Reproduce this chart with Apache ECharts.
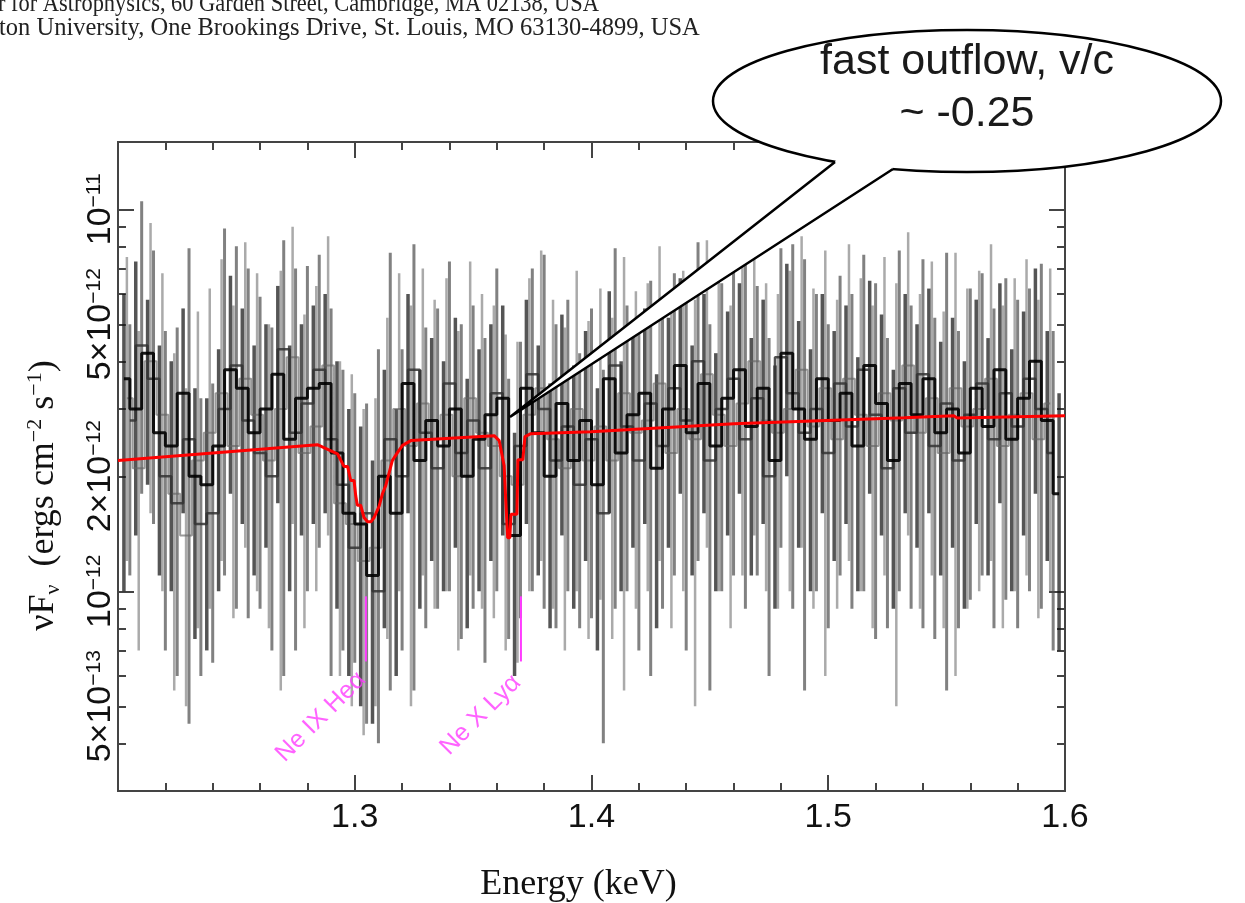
<!DOCTYPE html>
<html><head><meta charset="utf-8">
<script src="https://cdn.jsdelivr.net/npm/echarts@6/dist/echarts.min.js"></script>
<style>html,body{margin:0;padding:0;background:#fff}#c{width:1245px;height:903px}</style>
</head><body><div id="c"></div>
<script>
// ---------- DATA (flux in units of 1e-12 ergs cm^-2 s^-1) ----------
const UNIT = 1e-12;
// dataset 1 (dark)
const d1E = [1.2025,1.2075,1.2125,1.2175,1.2225,1.2275,1.2325,1.2375,1.2425,1.2475,
1.2525,1.2575,1.2625,1.2675,1.2725,1.2775,1.2825,1.2875,1.2925,1.2975,
1.3025,1.3075,1.3125,1.3175,1.3225,1.3275,1.3325,1.3375,1.3425,1.3475,
1.3525,1.3575,1.3625,1.3675,1.3725,1.3775,1.3825,1.3875,1.3925,1.3975,
1.4025,1.4075,1.4125,1.4175,1.4225,1.4275,1.4325,1.4375,1.4425,1.4475,
1.4525,1.4575,1.4625,1.4675,1.4725,1.4775,1.4825,1.4875,1.4925,1.4975,
1.5025,1.5075,1.5125,1.5175,1.5225,1.5275,1.5325,1.5375,1.5425,1.5475,
1.5525,1.5575,1.5625,1.5675,1.5725,1.5775,1.5825,1.5875,1.5925,1.5975];
const d1V = [3.6,3.0,4.2,2.6,2.4,3.3,2.0,1.9,2.4,3.8, 3.4,2.6,3.0,3.7,2.5,3.2,3.4,3.5,2.3,1.6,
1.5,1.1,2.0,1.6,3.5,2.2,2.8,2.4,3.0,2.0, 2.5,2.9,3.2,1.4,3.4,2.6,2.0,3.1,2.2,2.8,
1.9,3.6,2.3,2.9,3.3,2.1,3.0,3.9,2.6,3.5, 2.4,3.2,3.8,2.7,3.4,2.2,4.2,3.0,2.5,3.6,
2.8,3.3,2.4,3.9,3.1,2.2,3.5,2.9,3.6,2.6, 3.0,2.3,3.4,2.7,3.8,2.5,3.2,4.0,2.8,1.8];
const d1Lo = [1.0,1.4,1.9,1.1,1.0,1.6,0.75,0.7,1.0,1.8, 1.5,1.1,1.3,1.7,1.0,1.4,1.5,1.6,0.9,0.6,
0.5,0.45,0.8,0.6,1.6,0.9,1.2,1.0,1.3,0.8, 1.0,1.2,1.4,0.6,1.5,1.1,0.8,1.4,0.9,1.2,
0.7,1.6,1.0,1.3,1.5,0.8,1.3,1.8,1.1,1.6, 1.0,1.4,1.8,1.1,1.5,0.9,2.0,1.3,1.0,1.6,
1.2,1.5,1.0,1.8,1.4,0.9,1.6,1.3,1.6,1.1, 1.3,0.9,1.5,1.1,1.7,1.0,1.4,1.8,1.2,0.7];
const d1Hi = [6.0,7.3,5.8,4.4,4.0,5.5,3.4,3.2,4.3,6.7, 5.5,4.4,5.0,6.3,4.4,5.0,5.6,6.0,4.0,3.0,
2.7,2.2,3.8,3.0,6.0,3.8,4.6,4.0,5.2,3.6, 4.3,5.0,5.6,2.6,5.8,4.4,3.5,5.3,3.9,4.8,
3.4,6.1,4.0,5.0,5.5,3.7,5.2,6.6,4.4,6.0, 4.2,5.4,6.4,4.6,5.8,3.9,7.2,5.1,4.3,6.0,
4.8,5.6,4.1,6.5,5.3,3.8,6.0,5.0,6.2,4.5, 5.2,4.0,5.8,4.6,6.4,4.3,5.4,7.0,4.8,3.3];
// dataset 2 (grey)
const d2E = [1.205,1.210,1.215,1.220,1.225,1.230,1.235,1.240,1.245,1.250,
1.255,1.260,1.265,1.270,1.275,1.280,1.285,1.290,1.295,1.300,
1.305,1.310,1.315,1.320,1.325,1.330,1.335,1.340,1.345,1.350,
1.355,1.360,1.365,1.370,1.375,1.380,1.385,1.390,1.395,1.400,
1.405,1.410,1.415,1.420,1.425,1.430,1.435,1.440,1.445,1.450,
1.455,1.460,1.465,1.470,1.475,1.480,1.485,1.490,1.495,1.500,
1.505,1.510,1.515,1.520,1.525,1.530,1.535,1.540,1.545,1.550,
1.555,1.560,1.565,1.570,1.575,1.580,1.585,1.590,1.595];
const d2V = [2.8,4.4,3.6,2.0,1.7,2.5,1.5,1.6,3.0,3.9, 2.8,2.3,2.0,4.3,2.6,3.1,3.8,2.5,1.9,1.3,
1.6,1.0,2.5,2.0,3.8,2.6,2.1,3.5,2.3,2.8, 2.1,3.3,1.5,2.4,3.7,3.0,2.2,2.7,1.9,2.5,
1.6,3.9,2.7,2.2,3.1,2.4,3.4,2.8,4.0,2.2, 3.0,3.6,2.5,3.2,2.0,4.1,3.3,2.6,3.0,2.3,
3.5,2.7,3.8,2.9,2.1,3.4,2.6,3.7,2.4,3.1, 2.2,2.9,3.5,2.5,3.3,2.7,3.6,3.0,2.3];
const d2Lo = [1.1,1.8,1.5,0.7,0.6,0.45,0.6,0.65,1.1,0.9, 0.85,0.9,0.7,0.6,0.7,1.0,1.3,0.6,0.7,0.65,
0.45,0.4,0.55,0.7,0.55,0.8,0.9,1.0,0.75,0.9, 0.65,1.0,0.75,0.85,1.0,0.9,0.8,1.0,0.8,0.85,
0.4,0.9,1.0,0.7,0.6,0.9,1.1,0.7,1.2,0.55, 1.0,1.1,0.9,1.1,0.6,1.3,0.9,0.55,1.0,0.8,
1.1,0.9,1.0,0.75,0.8,1.0,0.9,0.8,0.75,0.55, 0.8,0.95,1.1,0.8,0.95,0.8,1.0,0.9,0.7];
const d2Hi = [5.0,10.5,7.8,4.8,4.9,7.9,3.2,3.5,8.9,8.0, 7.0,5.9,4.9,8.3,7.0,7.1,7.6,5.5,3.8,3.3,
3.1,4.3,7.7,4.3,8.1,4.9,5.5,7.3,5.0,5.6, 4.6,7.0,3.6,4.5,7.0,7.6,5.0,5.8,4.2,5.5,
3.8,7.9,5.6,4.8,6.5,5.2,6.8,6.5,8.2,5.0, 6.4,6.9,7.2,6.3,4.6,7.9,8.1,7.4,6.0,5.0,
6.7,6.0,7.6,6.4,4.6,7.8,5.6,7.4,5.2,7.7, 4.8,6.2,6.8,5.5,6.6,5.8,6.2,7.2,4.8];
// dataset 3 (light grey)
const d3E = [1.20375,1.20875,1.21375,1.21875,1.22375,1.22875,1.23375,1.23875,1.24375,1.24875,
1.25375,1.25875,1.26375,1.26875,1.27375,1.27875,1.28375,1.28875,1.29375,1.29875,
1.30375,1.30875,1.31375,1.31875,1.32375,1.32875,1.33375,1.33875,1.34375,1.34875,
1.35375,1.35875,1.36375,1.36875,1.37375,1.37875,1.38375,1.38875,1.39375,1.39875,
1.40375,1.40875,1.41375,1.41875,1.42375,1.42875,1.43375,1.43875,1.44375,1.44875,
1.45375,1.45875,1.46375,1.46875,1.47375,1.47875,1.48375,1.48875,1.49375,1.49875,
1.50375,1.50875,1.51375,1.51875,1.52375,1.52875,1.53375,1.53875,1.54375,1.54875,
1.55375,1.55875,1.56375,1.56875,1.57375,1.57875,1.58375,1.58875,1.59375];
const d3V = [3.2,2.1,4.0,2.9,1.8,1.4,2.2,2.6,3.3,2.4, 3.6,2.9,2.2,3.0,4.1,2.3,2.7,3.9,1.7,1.5,
1.2,1.3,2.2,3.0,2.4,3.1,2.5,2.9,2.0,3.2, 2.6,2.4,2.0,1.9,2.9,3.4,2.5,2.1,3.0,2.2,
2.7,2.2,3.3,2.6,2.8,3.5,2.3,3.0,2.5,3.7, 2.9,2.4,3.1,4.0,2.8,2.6,3.0,3.8,2.7,3.4,
2.5,3.6,2.9,2.4,3.3,2.8,3.9,2.6,3.2,2.3, 3.4,2.7,3.0,3.6,2.4,2.9,3.3,2.5,3.1];
const d3Lo = [1.2,0.7,1.6,1.0,0.55,0.5,0.8,0.9,1.2,0.85, 1.3,1.0,0.8,0.55,1.5,0.8,1.0,1.4,0.6,0.5,
0.42,0.5,0.75,1.0,0.5,1.1,0.9,1.0,0.7,1.1, 0.9,0.85,0.7,0.65,1.0,1.2,0.9,0.7,1.0,0.75,
0.95,0.75,0.55,0.9,1.0,1.2,0.8,1.0,0.5,1.3, 1.0,0.8,1.1,1.4,1.0,0.9,1.0,1.3,0.9,0.6,
0.9,1.2,1.0,0.8,1.1,0.5,1.4,0.9,1.1,0.8, 0.6,0.9,1.0,1.2,0.8,1.0,1.1,0.85,1.0];
const d3Hi = [7.5,4.8,9.2,6.8,4.2,3.4,5.4,6.2,7.4,5.6, 8.2,6.8,5.0,6.9,9.0,5.3,6.3,8.5,4.0,3.7,
3.0,3.2,5.2,6.8,5.6,7.0,5.8,6.6,4.8,7.3, 6.0,5.6,4.7,4.5,6.6,7.8,5.8,4.9,6.9,5.1,
6.2,5.2,7.5,6.1,6.4,8.0,5.4,6.9,5.8,8.3, 6.7,5.6,7.1,8.9,6.4,6.0,6.9,8.5,6.2,7.8,
5.8,8.1,6.6,5.6,7.5,6.4,8.7,6.0,7.3,5.4, 7.7,6.2,6.9,8.1,5.6,6.6,7.4,5.8,7.0];
// absorption model (red)
const modelE = [1.2,1.2842,1.2927,1.2955,1.2970,1.2983,1.2997,1.3004,1.3011,1.3025,1.3039,1.3054,1.3068,
1.3082,1.3103,1.3117,1.3131,1.3159,1.3181,1.3202,1.3237,1.3589,1.3610,1.3631,1.3638,1.3646,1.3655,
1.3660,1.3685,1.3689,1.3710,1.3719,1.3744,1.3998,1.4602,1.5321,1.5530,1.5545,1.6];
const modelF = [2.20,2.42,2.29,2.12,2.12,1.95,1.95,1.78,1.68,1.68,1.56,1.52,1.52,
1.56,1.67,1.80,1.89,2.20,2.31,2.41,2.48,2.555,2.48,2.13,1.72,1.38,1.38,
1.59,1.59,2.21,2.21,2.54,2.585,2.617,2.746,2.847,2.88,2.84,2.88];
// line identifications
const lineNames = ['Ne IX Heα','Ne X Lyα'];
const lineE = [1.3047,1.3702];
const lineTop = [9.7e-13,9.7e-13];
const lineBot = [6.55e-13,6.55e-13];
const labelE = [1.3030,1.3685];
const labelF = [6.0e-13,5.9e-13];
// axis ticks
const yLabelVals = [5e-13,1e-12,2e-12,5e-12,1e-11];
const yMajorTicks = [1e-12,1e-11];
const yMinorTicks = [4e-13,5e-13,6e-13,7e-13,8e-13,9e-13,2e-12,3e-12,4e-12,5e-12,6e-12,7e-12,8e-12,9e-12];

// ---------- CHART ----------
const AX = '#444';
const chart = echarts.init(document.getElementById('c'), null, {renderer:'canvas'});

function yFmt(v){
  const e = Math.floor(Math.log10(v) + 1e-9);
  const m = Math.round(v / Math.pow(10, e));
  return (m === 1 ? '' : '{n|' + m + '×}') + '{n|10}{s|−' + (-e) + '}';
}
const yRich = {
  n:{fontFamily:'Liberation Sans', fontSize:34, color:'#111', lineHeight:34, verticalAlign:'middle'},
  s:{fontFamily:'Liberation Sans', fontSize:21, color:'#111', lineHeight:20, verticalAlign:'top'}
};
function yAxisDef(pos, ticks, len, showLabel){
  return {type:'log', logBase:10, position:pos, min:3e-13, max:1.5e-11,
    axisLine:{show:true, lineStyle:{color:AX, width:2}},
    axisTick:{show:true, inside:true, length:len, customValues:ticks, lineStyle:{color:AX, width:2}},
    axisLabel: showLabel ? {show:true, customValues:yLabelVals, rotate:90, margin:0, formatter:yFmt, rich:yRich} : {show:false},
    splitLine:{show:false}, minorTick:{show:false}};
}
function xAxisDef(pos, showLabel){
  return {type:'value', position:pos, min:1.2, max:1.6, interval:0.1,
    axisLine:{show:true, onZero:false, lineStyle:{color:AX, width:2}},
    axisTick:{show:true, inside:true, length:16, lineStyle:{color:AX, width:2}},
    minorTick:{show:true, splitNumber:5, length:8, lineStyle:{color:AX, width:2}},
    axisLabel: showLabel ? {show:true, showMinLabel:false, showMaxLabel:true, margin:10, fontSize:34,
      fontFamily:'Liberation Sans', color:'#111', formatter:v=>v.toFixed(1)} : {show:false},
    splitLine:{show:false}, minorSplitLine:{show:false}};
}
const xAxes = [xAxisDef('bottom', true), xAxisDef('top', false)];
xAxes[0].name = 'Energy (keV)';
xAxes[0].nameLocation = 'middle';
xAxes[0].nameGap = 76;
xAxes[0].nameTextStyle = {fontFamily:'Liberation Serif', fontSize:36, color:'#111', padding:[0,26,0,0]};

const yAxes = [yAxisDef('left', yMajorTicks, 16, true), yAxisDef('left', yMinorTicks, 8, false),
               yAxisDef('right', yMajorTicks, 16, false), yAxisDef('right', yMinorTicks, 8, false)];
yAxes[0].name = '{t|νF}{sub|ν}{t|  (ergs cm}{sup|−2}{t| s}{sup|−1}{t|)}';
yAxes[0].nameLocation = 'middle';
yAxes[0].nameGap = 54;
yAxes[0].nameRotate = 90;
yAxes[0].nameTextStyle = {padding:[0,58,0,0], rich:{
  t:{fontFamily:'Liberation Serif', fontSize:36, color:'#111', lineHeight:40, verticalAlign:'middle'},
  sub:{fontFamily:'Liberation Serif', fontSize:22, color:'#111', lineHeight:24, verticalAlign:'bottom'},
  sup:{fontFamily:'Liberation Serif', fontSize:22, color:'#111', lineHeight:24, verticalAlign:'top'}}};

function errSeries(E, lo, hi, color, width, z){
  return {type:'custom', xAxisIndex:0, yAxisIndex:0, clip:true, z:z, silent:true,
    data: E.map((e,i)=>[e, lo[i]*UNIT, hi[i]*UNIT]),
    encode:{x:0, y:[1,2]},
    renderItem:function(params, api){
      const p1 = api.coord([api.value(0), api.value(1)]);
      const p2 = api.coord([api.value(0), api.value(2)]);
      return {type:'line', shape:{x1:p1[0], y1:p1[1], x2:p2[0], y2:p2[1]},
        style:{stroke:color, lineWidth:width}};
    }};
}
function stepSeries(E, V, color, width, z){
  return {type:'line', step:'middle', xAxisIndex:0, yAxisIndex:0, z:z, silent:true,
    data:E.map((e,i)=>[e, V[i]*UNIT]), symbol:'none', lineStyle:{color:color, width:width}};
}

const series = [
  errSeries(d3E, d3Lo, d3Hi, 'rgba(125,125,125,0.65)', 2.5, 1),
  errSeries(d2E, d2Lo, d2Hi, 'rgba(75,75,75,0.7)', 3, 2),
  errSeries(d1E, d1Lo, d1Hi, 'rgba(20,20,20,0.72)', 3.5, 3),
  stepSeries(d3E, d3V, 'rgba(100,100,100,0.65)', 2, 4),
  stepSeries(d2E, d2V, 'rgba(50,50,50,0.85)', 2.5, 5),
  stepSeries(d1E, d1V, 'rgba(0,0,0,0.9)', 3, 6),
  {type:'line', xAxisIndex:0, yAxisIndex:0, z:8, silent:true, symbol:'none',
   data:modelE.map((e,i)=>[e, modelF[i]*UNIT]), lineStyle:{color:'#ff0000', width:3}},
  {type:'custom', xAxisIndex:0, yAxisIndex:0, z:9, silent:true,
   data:lineE.map((e,i)=>[e, lineBot[i], lineTop[i]]), encode:{x:0, y:[1,2]},
   renderItem:function(params, api){
     const p1 = api.coord([api.value(0), api.value(1)]);
     const p2 = api.coord([api.value(0), api.value(2)]);
     return {type:'line', shape:{x1:p1[0], y1:p1[1], x2:p2[0], y2:p2[1]}, style:{stroke:'#ff3cff', lineWidth:2}};
   }},
  {type:'scatter', xAxisIndex:0, yAxisIndex:0, z:9, silent:true, symbolSize:0,
   data:labelE.map((e,i)=>({value:[e, labelF[i]], name:lineNames[i]})),
   label:{show:true, position:'left', distance:0, rotate:45, formatter:'{b}',
     fontFamily:'Liberation Sans', fontSize:25, color:'#ff3cff'}}
];

// callout bubble
const ell = {cx:967, cy:101, rx:254, ry:71};
const tip = [510, 417], bL = [835, 162], bR = [893, 169];
const graphic = [
  {type:'text', x:-2, y:5, scaleX:0.915, z:100, style:{text:'r for Astrophysics, 60 Garden Street, Cambridge, MA 02138, USA',
    fontFamily:'Liberation Serif', fontSize:24.5, fill:'#222', verticalAlign:'middle', align:'left'}},
  {type:'text', x:-1, y:29, z:100, style:{text:'ton University, One Brookings Drive, St. Louis, MO 63130-4899, USA',
    fontFamily:'Liberation Serif', fontSize:24.5, fill:'#222', verticalAlign:'middle', align:'left'}},
  {type:'ellipse', z:100, shape:ell, style:{fill:'#fff', stroke:'#000', lineWidth:2.5}},
  {type:'polygon', z:101, shape:{points:[tip, bL, [845,140], [885,140], bR]}, style:{fill:'#fff', stroke:null}},
  {type:'polyline', z:102, shape:{points:[bL, tip, bR]}, style:{stroke:'#000', lineWidth:2.5, fill:null}},
  {type:'text', x:967, y:62, z:103, style:{text:'fast outflow, v/c', fontFamily:'Liberation Sans', fontSize:43,
    fill:'#1a1a1a', align:'center', verticalAlign:'middle'}},
  {type:'text', x:967, y:114, z:103, style:{text:'~ -0.25', fontFamily:'Liberation Sans', fontSize:43,
    fill:'#1a1a1a', align:'center', verticalAlign:'middle'}}
];

chart.setOption({
  animation:false,
  backgroundColor:'#fff',
  grid:{left:118, top:142, width:947, height:649, containLabel:false, outerBoundsMode:'none'},
  xAxis:xAxes,
  yAxis:yAxes,
  series:series,
  graphic:graphic
});
</script></body></html>
